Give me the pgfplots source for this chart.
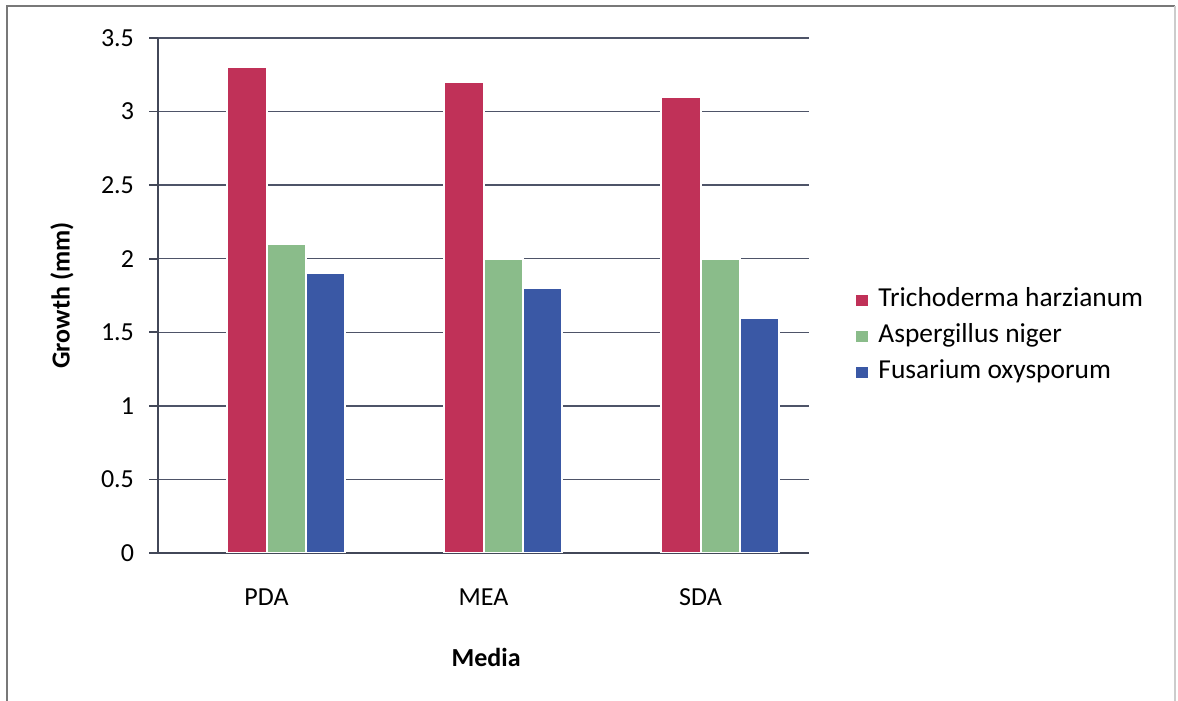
\documentclass[border=0pt]{standalone}
\usepackage{fontspec}
\setmainfont{Carlito}
\usepackage{pgfplots}
\pgfplotsset{compat=1.18}

\definecolor{thred}{RGB}{192,49,88}
\definecolor{angreen}{RGB}{138,188,138}
\definecolor{foblue}{RGB}{58,88,165}
\definecolor{gridc}{RGB}{78,84,104}
\definecolor{framec}{RGB}{120,120,120}

\begin{document}
\begin{tikzpicture}[font=\fontsize{13pt}{15.6pt}\selectfont]
  \useasboundingbox (0,0) rectangle (589pt,350.5pt);
  % outer chart frame
  \draw[framec, line width=1.2pt] (3.5pt,0pt) -- (3.5pt,347.5pt) -- (587.5pt,347.5pt);
  \draw[black!20, line width=0.6pt] (587.5pt,347.5pt) -- (587.5pt,0pt);

  \begin{axis}[
    at={(79pt,74pt)}, anchor=south west,
    scale only axis,
    width=325.5pt, height=257.5pt,
    ybar,
    xmin=-0.5, xmax=2.5,
    ymin=0, ymax=3.5,
    xtick={0,1,2},
    xticklabels={PDA,MEA,SDA},
    ytick={0,0.5,...,3.5},
    /pgf/number format/assume math mode=true,
    axis x line*=bottom,
    axis y line*=left,
    axis line style={gridc!85!black, line width=0.8pt},
    xtick style={draw=none},
    ytick style={gridc!85!black, line width=0.8pt},
    tick align=outside,
    major tick length=4.5pt,
    ymajorgrids,
    major grid style={gridc, line width=0.7pt},
    xticklabel style={anchor=north, yshift=-10pt},
    yticklabel style={anchor=east, xshift=-4pt},
    ylabel={\textbf{Growth (mm)}},
    ylabel style={at={(axis description cs:-0.1475,0.5)}, anchor=center, rotate=0},
    xlabel={\textbf{Media}},
    xlabel style={at={(axis description cs:0.504,-0.202)}, anchor=center},
    bar width=0.18,
    legend style={
      at={(axis description cs:1.060,0.526)}, anchor=north west,
      draw=none, fill=none, row sep=3.9pt,
      font=\fontsize{13.7pt}{16pt}\selectfont,
      nodes={inner sep=1pt, text height=9pt, text depth=3pt, anchor=west},
      /tikz/every odd column/.append style={column sep=3pt},
    },
    legend cell align=left,
    legend image code/.code={\fill[#1] (0pt,-3.2pt) rectangle (7pt,3.3pt);},
  ]
    \addplot[fill=thred, draw=white, line width=1pt, bar shift=-0.09]
      coordinates {(0,3.3) (1,3.2) (2,3.1)};
    \addplot[fill=angreen, draw=white, line width=1pt, bar shift=0.09]
      coordinates {(0,2.1) (1,2.0) (2,2.0)};
    \addplot[fill=foblue, draw=white, line width=1pt, bar shift=0.27]
      coordinates {(0,1.9) (1,1.8) (2,1.6)};
    \legend{Trichoderma harzianum, Aspergillus niger, Fusarium oxysporum}
  \end{axis}
\end{tikzpicture}
\end{document}
